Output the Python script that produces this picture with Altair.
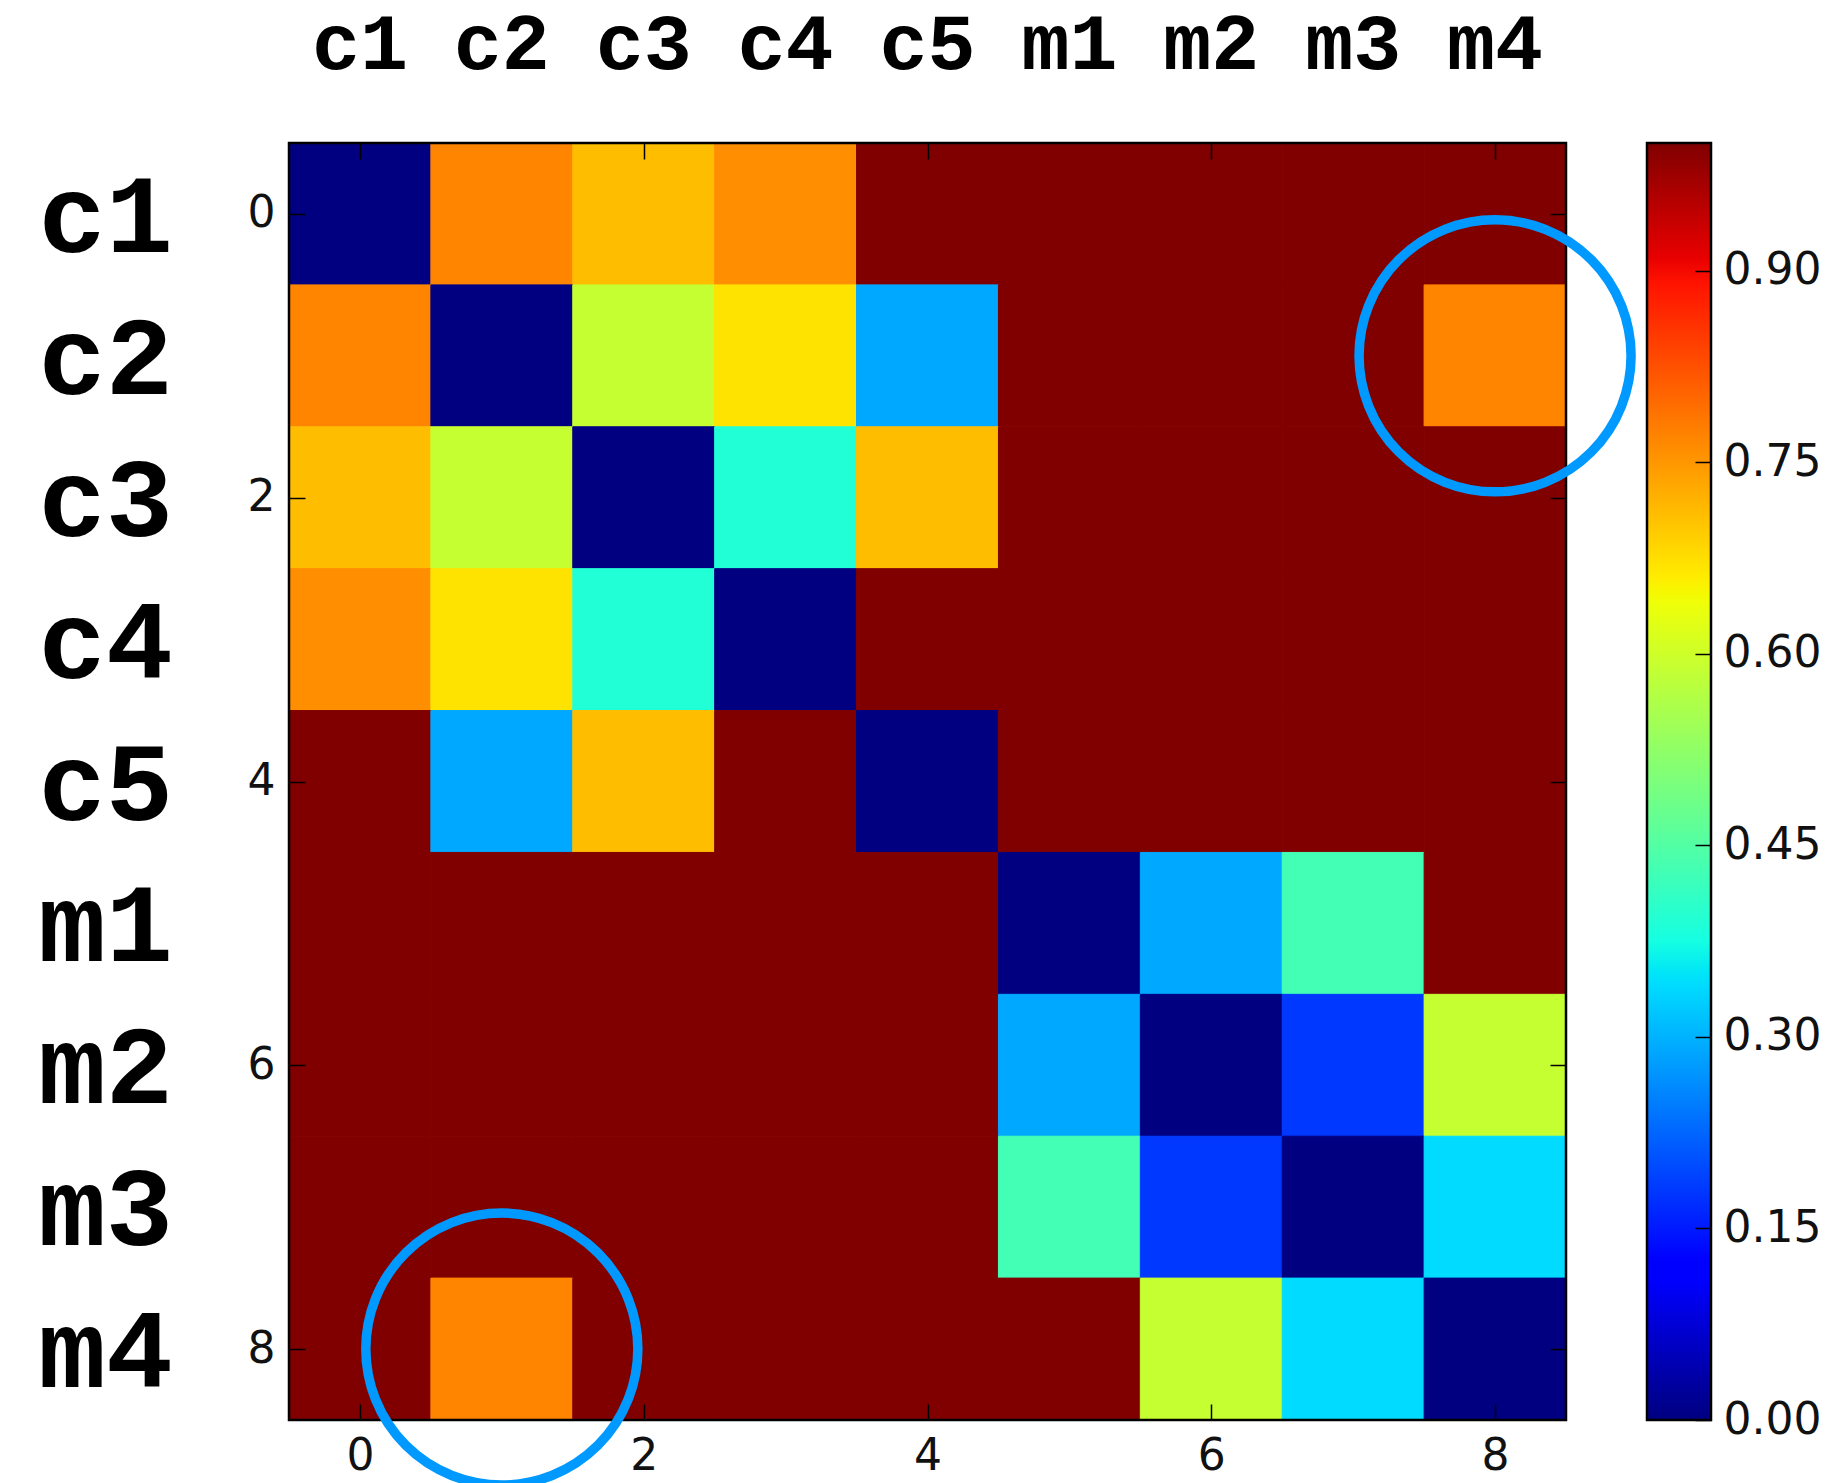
import altair as alt
import numpy as np
import pandas as pd

labels = ["c1", "c2", "c3", "c4", "c5", "m1", "m2", "m3", "m4"]

row_c1 = [0.00, 0.77, 0.71, 0.76, 1.00, 1.00, 1.00, 1.00, 1.00]
row_c2 = [0.77, 0.00, 0.59, 0.67, 0.29, 1.00, 1.00, 1.00, 0.77]
row_c3 = [0.71, 0.59, 0.00, 0.39, 0.71, 1.00, 1.00, 1.00, 1.00]
row_c4 = [0.76, 0.67, 0.39, 0.00, 1.00, 1.00, 1.00, 1.00, 1.00]
row_c5 = [1.00, 0.29, 0.71, 1.00, 0.00, 1.00, 1.00, 1.00, 1.00]
row_m1 = [1.00, 1.00, 1.00, 1.00, 1.00, 0.00, 0.29, 0.43, 1.00]
row_m2 = [1.00, 1.00, 1.00, 1.00, 1.00, 0.29, 0.00, 0.18, 0.59]
row_m3 = [1.00, 1.00, 1.00, 1.00, 1.00, 0.43, 0.18, 0.00, 0.34]
row_m4 = [1.00, 0.77, 1.00, 1.00, 1.00, 1.00, 0.59, 0.34, 0.00]
rows = [row_c1, row_c2, row_c3, row_c4, row_c5, row_m1, row_m2, row_m3, row_m4]

axis_ticks = [0, 2, 4, 6, 8]
cbar_ticks = [0.0, 0.15, 0.30, 0.45, 0.60, 0.75, 0.90]

circle_cols = [8, 1]
circle_rows = [1, 8]

# matplotlib "jet" colormap segment data
jet_r = [(0, 0), (0.35, 0), (0.66, 1), (0.89, 1), (1, 0.5)]
jet_g = [(0, 0), (0.125, 0), (0.375, 1), (0.64, 1), (0.91, 0), (1, 0)]
jet_b = [(0, 0.5), (0.11, 1), (0.34, 1), (0.65, 0), (1, 0)]
breaks = sorted(set([p for p, _ in jet_r + jet_g + jet_b]))


def chan(seg, v):
    xs_ = [p for p, _ in seg]
    ys_ = [c for _, c in seg]
    return float(np.interp(v, xs_, ys_))


jet_colors = [
    "#%02x%02x%02x" % tuple(int(round(255 * chan(s, b))) for s in (jet_r, jet_g, jet_b))
    for b in breaks
]

cells = []
for r, vals in enumerate(rows):
    for c, v in enumerate(vals):
        cells.append({"row": r, "col": c, "value": v,
                      "x0": c - 0.5, "x1": c + 0.5, "y0": r - 0.5, "y1": r + 0.5})
cells_df = pd.DataFrame(cells)
lab_df = pd.DataFrame({"idx": list(range(len(labels))), "name": labels})
circ_df = pd.DataFrame({"col": circle_cols, "row": circle_rows})
frame_df = pd.DataFrame({"lo": [-0.5], "hi": [8.5]})

PLOT = 1277
TICK = 16
tick_font = "DejaVu Sans"
lab_font = "Liberation Mono"

xs = alt.Scale(domain=[-0.5, 8.5], nice=False, zero=False)
ys = alt.Scale(domain=[-0.5, 8.5], nice=False, zero=False, reverse=True)

common_axis = dict(values=axis_ticks, title=None, domain=False, grid=False,
                   tickSize=TICK, offset=-TICK, tickColor="black", tickWidth=1.5,
                   labelFont=tick_font, labelFontSize=44, labelColor="#111111", zindex=2)

x_axis = alt.Axis(orient="bottom", labelPadding=14, **common_axis)
y_axis = alt.Axis(orient="left", labelPadding=14, **common_axis)

jet_scale = alt.Scale(domain=breaks, range=jet_colors, interpolate="rgb")

heat = alt.Chart(cells_df).mark_rect(strokeWidth=1).encode(
    x=alt.X("x0:Q", scale=xs, axis=x_axis),
    x2="x1:Q",
    y=alt.Y("y0:Q", scale=ys, axis=y_axis),
    y2="y1:Q",
    fill=alt.Fill("value:Q", scale=jet_scale, legend=None),
    stroke=alt.Stroke("value:Q", scale=jet_scale, legend=None),
)

frame = alt.Chart(frame_df).mark_rect(filled=False, stroke="black", strokeWidth=2.5).encode(
    x=alt.X("lo:Q", scale=xs, axis=x_axis),
    x2="hi:Q",
    y=alt.Y("lo:Q", scale=ys, axis=y_axis),
    y2="hi:Q",
)

top_labels = alt.Chart(lab_df).mark_text(
    font=lab_font, fontWeight="bold", fontSize=80, baseline="middle", align="center", color="black"
).encode(x=alt.X("idx:Q", scale=xs, axis=x_axis), y=alt.value(-98), text="name:N")

left_labels = alt.Chart(lab_df).mark_text(
    font=lab_font, fontWeight="bold", fontSize=112, baseline="middle", align="right", color="black", dy=4
).encode(y=alt.Y("idx:Q", scale=ys, axis=y_axis), x=alt.value(-116), text="name:N")

base = alt.layer(heat, frame, top_labels, left_labels)

opp_axis = dict(common_axis)
opp_axis.update(labels=False)

circles = alt.Chart(circ_df).mark_point(
    shape="circle", filled=False, size=74000, strokeWidth=9.5, color="#0099ff", opacity=1
).encode(
    x=alt.X("col:Q", scale=xs, axis=alt.Axis(orient="top", **opp_axis)),
    y=alt.Y("row:Q", scale=ys, axis=alt.Axis(orient="right", **opp_axis)),
)

main = alt.layer(base, circles).resolve_scale(x="independent", y="independent").properties(
    width=PLOT, height=PLOT)

gradient = alt.Gradient(
    gradient="linear",
    stops=[alt.GradientStop(color=c, offset=o) for o, c in zip(breaks, jet_colors)],
    x1=0, x2=0, y1=1, y2=0,
)

cbar_df = pd.DataFrame({"lo": [0.0], "hi": [1.0]})
cbar = alt.Chart(cbar_df).mark_rect(fill=gradient, stroke="black", strokeWidth=2.5).encode(
    y=alt.Y("lo:Q", scale=alt.Scale(domain=[0, 1], nice=False, zero=False),
            axis=alt.Axis(orient="right", values=cbar_ticks, format=".2f", title=None,
                          domain=False, grid=False, tickSize=TICK, offset=-TICK,
                          tickColor="black", tickWidth=1.5, labelPadding=12, zindex=2,
                          labelFont=tick_font, labelFontSize=44, labelColor="#111111")),
    y2="hi:Q",
    x=alt.value(0),
    x2=alt.value(64),
).properties(width=64, height=PLOT)

chart = alt.hconcat(main, cbar, spacing=81, bounds="flush").properties(
    padding={"left": 38, "top": 4, "right": 5, "bottom": 5}
).configure_view(stroke=None).configure(background="white")

chart.save("out.html", embed_options={"renderer": "svg", "actions": False})
